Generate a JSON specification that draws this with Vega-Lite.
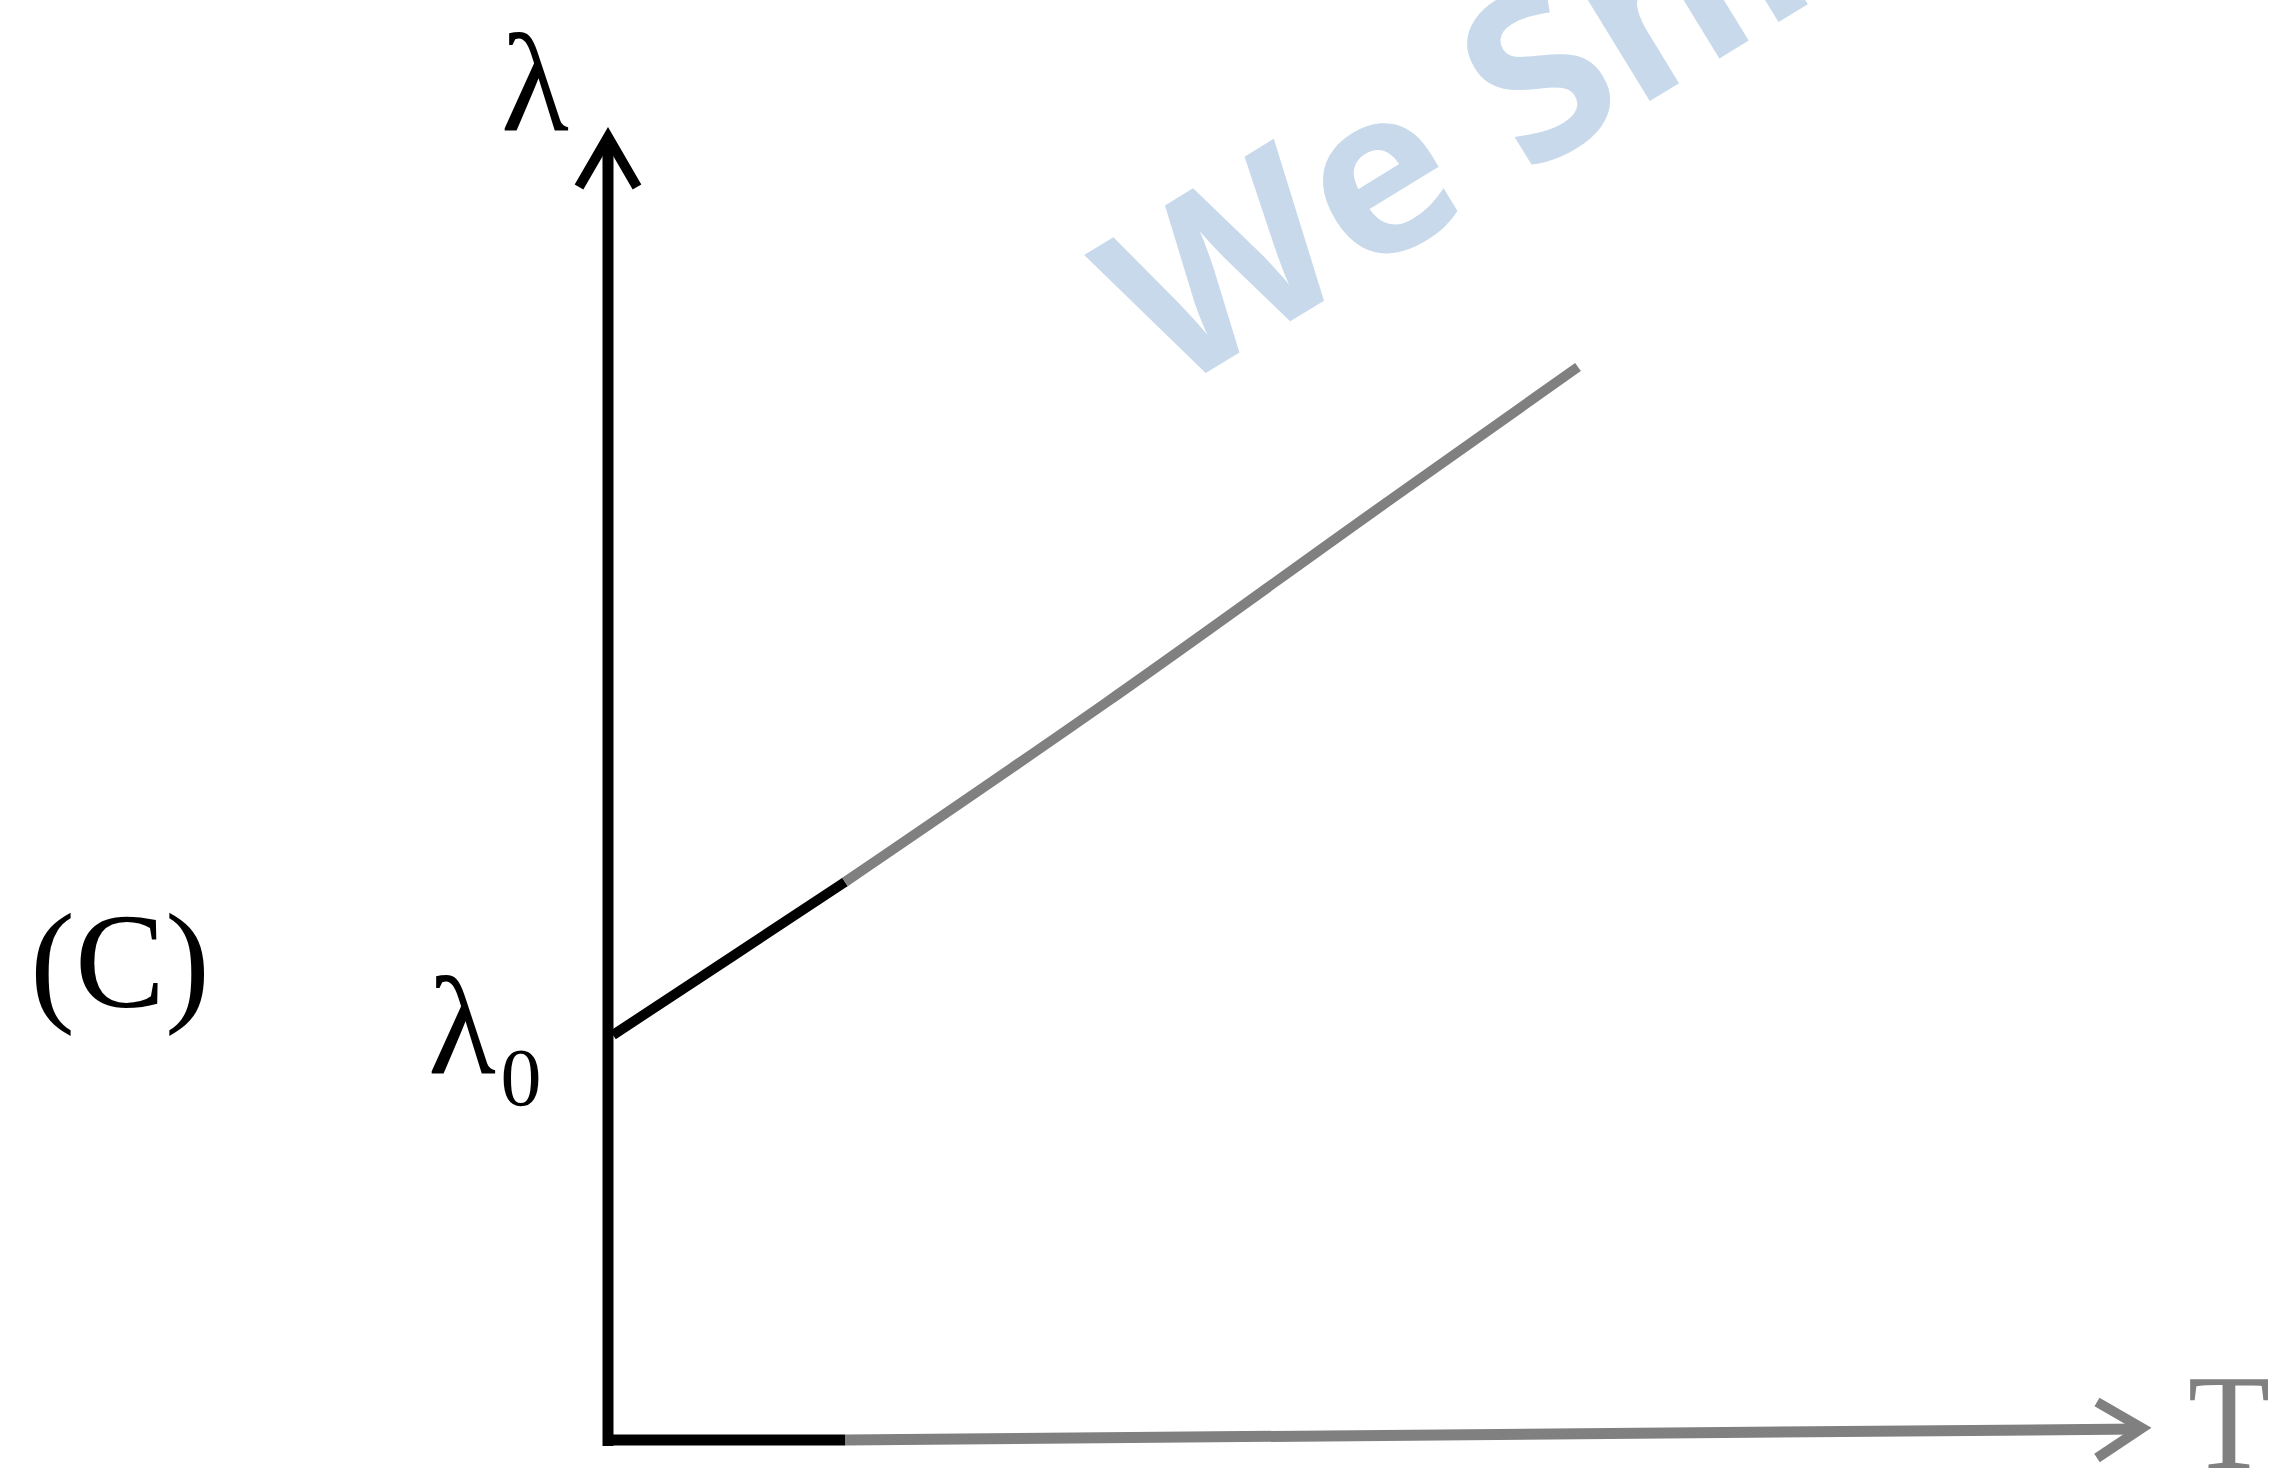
{
  "$schema": "https://vega.github.io/schema/vega-lite/v6.json",
  "width": 2275,
  "height": 1483,
  "padding": 0,
  "autosize": {"type": "none"},
  "background": "#ffffff",
  "view": {"stroke": null},
  "datasets": {
    "curve": [
      {"T": 0.0, "lam": 4.03, "seg": "black"},
      {"T": 1.2, "lam": 4.82, "seg": "black"},
      {"T": 2.32, "lam": 5.56, "seg": "black"},
      {"T": 2.32, "lam": 5.56, "seg": "gray"},
      {"T": 4.94, "lam": 7.36, "seg": "gray"},
      {"T": 7.77, "lam": 9.38, "seg": "gray"},
      {"T": 9.65, "lam": 10.71, "seg": "gray"}
    ],
    "axes": [
      {"axis": "y", "T": -0.05, "T2": -0.05, "lam": -0.08, "lam2": 13.01, "seg": "black"},
      {"axis": "x1", "T": -0.1, "T2": 2.32, "lam": -0.02, "lam2": -0.02, "seg": "black"},
      {"axis": "x2", "T": 2.32, "T2": 15.27, "lam": -0.02, "lam2": 0.09, "seg": "gray"}
    ],
    "arrows": [
      {"arrow": "y", "i": 1, "T": -0.34, "lam": 12.51, "seg": "black"},
      {"arrow": "y", "i": 2, "T": -0.05, "lam": 13.01, "seg": "black"},
      {"arrow": "y", "i": 3, "T": 0.24, "lam": 12.51, "seg": "black"},
      {"arrow": "x", "i": 1, "T": 14.84, "lam": 0.36, "seg": "gray"},
      {"arrow": "x", "i": 2, "T": 15.29, "lam": 0.1, "seg": "gray"},
      {"arrow": "x", "i": 3, "T": 14.84, "lam": -0.2, "seg": "gray"}
    ],
    "labels": [
      {"label": "lambda", "T": -0.78, "lam": 13.08, "text": "λ"},
      {"label": "lambda0", "T": -1.51, "lam": 3.65, "text": "λ"},
      {"label": "sub0", "T": -0.92, "lam": 3.33, "text": "0"},
      {"label": "T", "T": 16.16, "lam": -0.3, "text": "T"},
      {"label": "C", "T": -4.93, "lam": 4.31, "text": "(C)"},
      {"label": "wm", "T": 5.57, "lam": 10.43, "text": "We Shine"}
    ]
  },
  "encoding": {
    "x": {"field": "T", "type": "quantitative", "scale": {"domain": [-6.13, 16.62], "nice": false, "zero": false}, "axis": null},
    "y": {"field": "lam", "type": "quantitative", "scale": {"domain": [-0.45, 14.38], "nice": false, "zero": false}, "axis": null}
  },
  "layer": [
    {
      "data": {"name": "labels"},
      "transform": [{"filter": "datum.label === 'wm'"}],
      "mark": {"type": "text", "font": "Open Sans", "fontWeight": "bold", "fontSize": 230, "angle": -31.5, "align": "left", "baseline": "alphabetic", "color": "#c7d9eb"},
      "encoding": {"text": {"field": "text"}}
    },
    {
      "data": {"name": "axes"},
      "mark": {"type": "rule", "strokeWidth": 11, "strokeCap": "butt"},
      "encoding": {
        "x2": {"field": "T2"},
        "y2": {"field": "lam2"},
        "color": {"field": "seg", "type": "nominal", "scale": {"domain": ["black", "gray"], "range": ["#000000", "#808080"]}, "legend": null}
      }
    },
    {
      "data": {"name": "arrows"},
      "mark": {"type": "line", "strokeWidth": 10, "strokeJoin": "miter", "strokeCap": "butt"},
      "encoding": {
        "order": {"field": "i", "type": "quantitative"},
        "detail": {"field": "arrow", "type": "nominal"},
        "color": {"field": "seg", "type": "nominal", "scale": {"domain": ["black", "gray"], "range": ["#000000", "#808080"]}, "legend": null}
      }
    },
    {
      "data": {"name": "curve"},
      "mark": {"type": "line", "strokeWidth": 10, "strokeCap": "butt", "interpolate": "monotone"},
      "encoding": {
        "color": {"field": "seg", "type": "nominal", "scale": {"domain": ["black", "gray"], "range": ["#000000", "#808080"]}, "legend": null}
      }
    },
    {
      "data": {"name": "labels"},
      "transform": [{"filter": "datum.label === 'lambda' || datum.label === 'lambda0'"}],
      "mark": {"type": "text", "font": "Liberation Serif", "fontSize": 140, "align": "center", "baseline": "alphabetic", "color": "#000000"},
      "encoding": {"text": {"field": "text"}}
    },
    {
      "data": {"name": "labels"},
      "transform": [{"filter": "datum.label === 'sub0'"}],
      "mark": {"type": "text", "font": "Liberation Serif", "fontSize": 82, "align": "center", "baseline": "alphabetic", "color": "#000000"},
      "encoding": {"text": {"field": "text"}}
    },
    {
      "data": {"name": "labels"},
      "transform": [{"filter": "datum.label === 'T'"}],
      "mark": {"type": "text", "font": "Liberation Serif", "fontSize": 135, "align": "center", "baseline": "alphabetic", "color": "#808080"},
      "encoding": {"text": {"field": "text"}}
    },
    {
      "data": {"name": "labels"},
      "transform": [{"filter": "datum.label === 'C'"}],
      "mark": {"type": "text", "font": "Liberation Serif", "fontSize": 135, "align": "center", "baseline": "alphabetic", "color": "#000000"},
      "encoding": {"text": {"field": "text"}}
    }
  ]
}
